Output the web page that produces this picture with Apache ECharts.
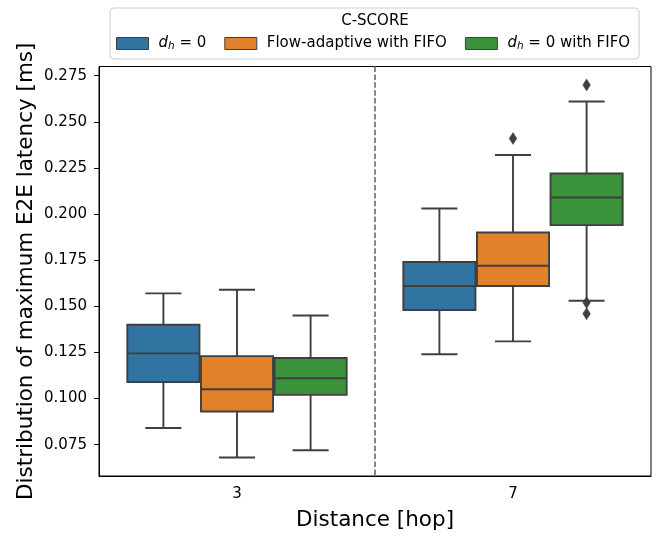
<!DOCTYPE html>
<html>
<head>
<meta charset="utf-8">
<script src="https://cdn.jsdelivr.net/npm/echarts@6/dist/echarts.min.js"></script>
<style>
  html, body { margin: 0; padding: 0; background: #fff; }
  #chart { width: 660px; height: 536px; }
</style>
</head>
<body>
<div id="chart"></div>
<script>
// Distance categories (hops)
const categories = ['3', '7'];
const seriesNames = ['d_h = 0', 'Flow-adaptive with FIFO', 'd_h = 0 with FIFO'];
const seriesColors = ['#3274a1', '#e1812c', '#3a923a'];

// Box statistics per distance: [whisker low, Q1, median, Q3, whisker high] in ms
const boxDh0 = [[0.084, 0.109, 0.1245, 0.140, 0.157], [0.124, 0.148, 0.161, 0.174, 0.203]];
const boxFlowFifo = [[0.068, 0.093, 0.105, 0.123, 0.159], [0.131, 0.161, 0.172, 0.190, 0.232]];
const boxDh0Fifo = [[0.072, 0.102, 0.111, 0.122, 0.145], [0.153, 0.194, 0.209, 0.222, 0.261]];

// Outliers: [category index, value]
const outDh0 = [];
const outFlowFifo = [[1, 0.241]];
const outDh0Fifo = [[1, 0.270], [1, 0.152], [1, 0.146]];

const yTicks = [0.075, 0.100, 0.125, 0.150, 0.175, 0.200, 0.225, 0.250, 0.275];
const yMin = 0.058;
const yMax = 0.280;

const EDGE = '#3f3f3f';
const LW = 1.9;
const FONT = 'DejaVu Sans';

// x centre and width of one hue slot within a category band
function slotGeom(api, slot) {
  const cat = api.value(0);
  const band = api.size([1, 0])[0];
  const slotW = band * 0.8 / 3;
  const cx = api.coord([cat, yMin])[0] + (slot - 1) * slotW;
  return { cx: cx, w: slotW * 0.98 };
}

function seg(x1, y1, x2, y2) {
  return { type: 'line', shape: { x1: x1, y1: y1, x2: x2, y2: y2 },
           style: { stroke: EDGE, lineWidth: LW } };
}

function renderBox(slot, color) {
  return function (params, api) {
    const g = slotGeom(api, slot);
    const cat = api.value(0);
    const y = i => api.coord([cat, api.value(i)])[1];
    const lo = y(1), q1 = y(2), med = y(3), q3 = y(4), hi = y(5);
    const half = g.w / 2, cap = g.w / 4;
    return {
      type: 'group',
      children: [
        seg(g.cx, q3, g.cx, hi),
        seg(g.cx, q1, g.cx, lo),
        seg(g.cx - cap, hi, g.cx + cap, hi),
        seg(g.cx - cap, lo, g.cx + cap, lo),
        { type: 'rect', shape: { x: g.cx - half, y: q3, width: g.w, height: q1 - q3 },
          style: { fill: color, stroke: EDGE, lineWidth: LW } },
        seg(g.cx - half, med, g.cx + half, med)
      ]
    };
  };
}

function renderOutlier(slot) {
  return function (params, api) {
    const g = slotGeom(api, slot);
    const p = api.coord([api.value(0), api.value(1)]);
    const hw = 3.8, hh = 6;
    return {
      type: 'polygon',
      shape: { points: [[g.cx, p[1] - hh], [g.cx + hw, p[1]], [g.cx, p[1] + hh], [g.cx - hw, p[1]]] },
      style: { fill: EDGE, stroke: EDGE, lineWidth: 0.5 }
    };
  };
}

// dashed divider between the two distance groups
function renderDivider(params, api) {
  const band = api.size([1, 0])[0];
  const x = api.coord([0, yMin])[0] + band / 2;
  const cs = params.coordSys;
  return {
    type: 'line',
    shape: { x1: x, y1: cs.y, x2: x, y2: cs.y + cs.height },
    style: { stroke: '#808080', lineWidth: 1.9, lineDash: [5.5, 2.4] }
  };
}

const boxSets = [boxDh0, boxFlowFifo, boxDh0Fifo];
const outSets = [outDh0, outFlowFifo, outDh0Fifo];

const series = [{
  type: 'custom',
  name: 'divider',
  renderItem: renderDivider,
  data: [[0, yMin]],
  silent: true,
  z: 1
}];

boxSets.forEach((set, s) => {
  series.push({
    type: 'custom',
    name: seriesNames[s],
    itemStyle: { color: seriesColors[s] },
    renderItem: renderBox(s, seriesColors[s]),
    encode: { x: 0, y: [1, 2, 3, 4, 5] },
    data: set.map((b, i) => [i].concat(b)),
    z: 2
  });
});

outSets.forEach((set, s) => {
  series.push({
    type: 'custom',
    name: seriesNames[s],
    itemStyle: { color: seriesColors[s] },
    renderItem: renderOutlier(s),
    encode: { x: 0, y: 1 },
    data: set,
    z: 3
  });
});

const chart = echarts.init(document.getElementById('chart'), null, { renderer: 'canvas' });

chart.setOption({
  animation: false,
  backgroundColor: '#fff',
  textStyle: { fontFamily: FONT },
  grid: {
    left: 99, right: 9, top: 66.5, bottom: 58,
    show: true, borderColor: '#000', borderWidth: 1, backgroundColor: '#fff'
  },
  graphic: [{
    type: 'text',
    x: 375, y: 21.5,
    style: { text: 'C-SCORE', fontFamily: FONT, fontSize: 15, fill: '#000',
             align: 'center', verticalAlign: 'middle' },
    z: 10
  }],
  legend: {
    data: seriesNames,
    left: 110, top: 8,
    padding: [28, 9, 7, 6],
    itemWidth: 32, itemHeight: 12, itemGap: 18,
    icon: 'rect',
    itemStyle: { borderColor: EDGE, borderWidth: 1 },
    borderColor: '#cccccc', borderWidth: 1, borderRadius: 4,
    backgroundColor: '#fff',
    selectedMode: false,
    formatter: name => name.replace('d_h', '{d|d}{h|h}'),
    textStyle: {
      fontFamily: FONT, fontSize: 15, color: '#000',
      padding: [0, 0, 0, 5],
      rich: {
        d: { fontFamily: FONT, fontStyle: 'italic', fontSize: 15, color: '#000' },
        h: { fontFamily: FONT, fontStyle: 'italic', fontSize: 10.5, color: '#000', padding: [6, 0, 0, 0] }
      }
    }
  },
  xAxis: {
    type: 'category',
    data: categories,
    name: 'Distance [hop]',
    nameLocation: 'middle',
    nameGap: 33,
    nameMoveOverlap: false,
    nameTextStyle: { fontFamily: FONT, fontSize: 21.5, color: '#000' },
    axisLine: { lineStyle: { color: '#000', width: 1 } },
    axisTick: { alignWithLabel: true, length: 5, lineStyle: { color: '#000' } },
    axisLabel: { margin: 11, fontFamily: FONT, fontSize: 15, color: '#000' },
    splitLine: { show: false }
  },
  yAxis: {
    type: 'value',
    min: yMin, max: yMax,
    name: 'Distribution of maximum E2E latency [ms]',
    nameLocation: 'middle',
    nameGap: 62,
    nameMoveOverlap: false,
    nameTextStyle: { fontFamily: FONT, fontSize: 21.5, color: '#000' },
    axisLine: { show: true, lineStyle: { color: '#000', width: 1 } },
    axisTick: { show: true, length: 5, customValues: yTicks, lineStyle: { color: '#000' } },
    axisLabel: { margin: 12, fontFamily: FONT, fontSize: 15, color: '#000',
                 customValues: yTicks, formatter: v => v.toFixed(3) },
    splitLine: { show: false }
  },
  series: series
});
</script>
</body>
</html>
